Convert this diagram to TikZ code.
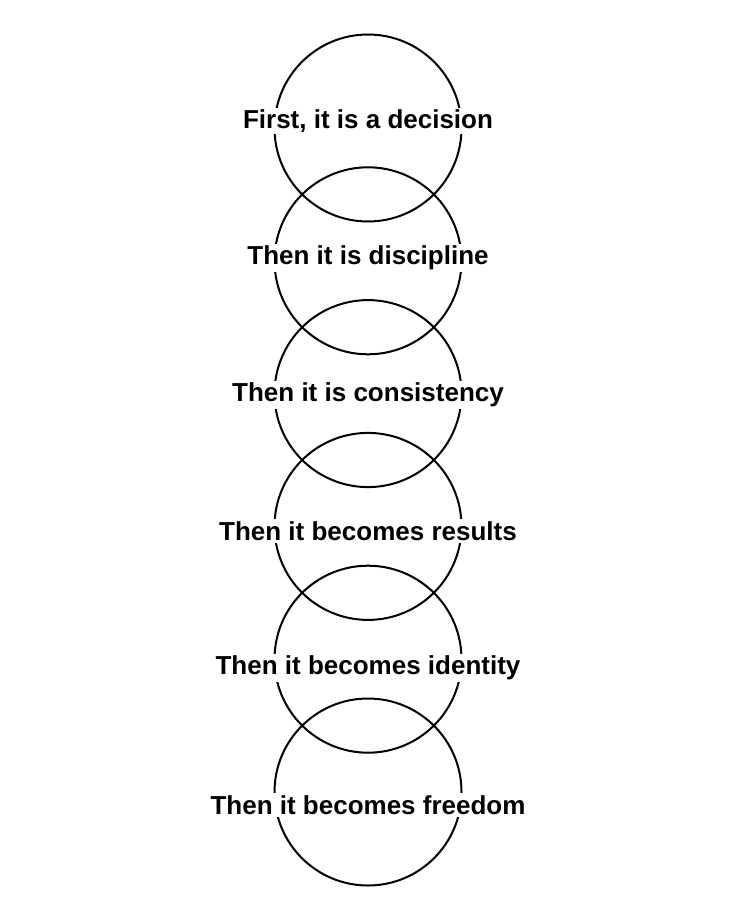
\documentclass[tikz,border=0pt]{standalone}
\usepackage{fontspec}
\setmainfont{Liberation Sans}
\begin{document}
\begin{tikzpicture}[x=1pt,y=-1pt,
  ring/.style={draw=black,line width=2pt},
  lbl/.style={fill=white,inner xsep=3pt,inner ysep=2pt,font=\fontsize{26}{30}\selectfont\bfseries}]
\useasboundingbox[fill=white] (0,0) rectangle (736,920);
\foreach \i in {0,...,5} {
  \node[ring,circle,minimum size=187pt,inner sep=0pt] (c\i) at (368,{128+132.8*\i}) {};
}
\node[lbl] (t0) at (368,121) {First, it is a decision};
\node[lbl] (t1) at (368,258) {Then it is discipline};
\node[lbl] (t2) at (368,395) {Then it is consistency};
\node[lbl] (t3) at (368,531) {Then it becomes results};
\node[lbl] (t4) at (368,668) {Then it becomes identity};
\node[lbl] (t5) at (368,805) {Then it becomes freedom};
\end{tikzpicture}
\end{document}
